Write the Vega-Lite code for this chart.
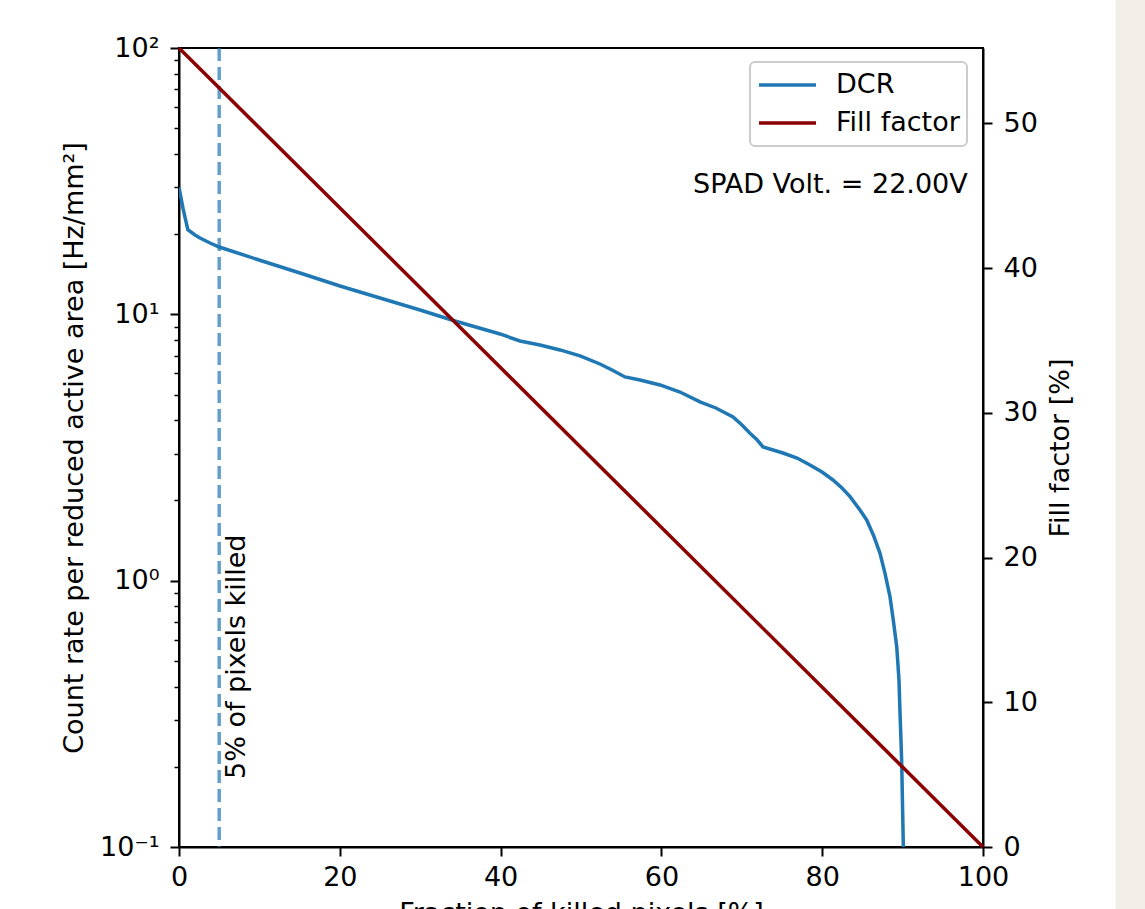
{
  "$schema": "https://vega.github.io/schema/vega-lite/v6.json",
  "width": 804,
  "height": 799,
  "autosize": {"type": "none"},
  "padding": {"left": 179, "top": 48, "right": 162, "bottom": 62},
  "background": "white",
  "config": {
    "font": "DejaVu Sans",
    "view": {"stroke": "black", "strokeWidth": 2},
    "axis": {
      "domainColor": "black", "domainWidth": 2,
      "tickColor": "black", "tickWidth": 2, "tickSize": 9,
      "labelFont": "DejaVu Sans", "labelFontSize": 27, "labelColor": "black", "labelPadding": 8,
      "labelFlush": false,
      "titleFont": "DejaVu Sans", "titleFontSize": 27, "titleColor": "black", "titleFontWeight": "normal",
      "grid": false
    },
    "legend": {
      "labelFont": "DejaVu Sans", "labelFontSize": 27, "labelColor": "black",
      "symbolType": "stroke", "symbolStrokeWidth": 3.5, "symbolSize": 3249,
      "labelOffset": 18, "padding": 7, "rowPadding": 6, "clipHeight": 32,
      "fillColor": "rgba(255,255,255,0.8)", "strokeColor": "#cccccc", "strokeWidth": 2, "cornerRadius": 5
    }
  },
  "datasets": {
    "dcr": [
      {"x": 0, "y": 30, "series": "DCR"},
      {"x": 0.5, "y": 25, "series": "DCR"},
      {"x": 1.1, "y": 20.8, "series": "DCR"},
      {"x": 1.99, "y": 19.86, "series": "DCR"},
      {"x": 2.61, "y": 19.35, "series": "DCR"},
      {"x": 3.86, "y": 18.53, "series": "DCR"},
      {"x": 5, "y": 17.9, "series": "DCR"},
      {"x": 9.95, "y": 16.0, "series": "DCR"},
      {"x": 15.05, "y": 14.3, "series": "DCR"},
      {"x": 20.02, "y": 12.78, "series": "DCR"},
      {"x": 25.0, "y": 11.52, "series": "DCR"},
      {"x": 29.98, "y": 10.38, "series": "DCR"},
      {"x": 34.33, "y": 9.44, "series": "DCR"},
      {"x": 39.93, "y": 8.44, "series": "DCR"},
      {"x": 42.41, "y": 7.94, "series": "DCR"},
      {"x": 44.9, "y": 7.67, "series": "DCR"},
      {"x": 47.39, "y": 7.35, "series": "DCR"},
      {"x": 49.88, "y": 6.98, "series": "DCR"},
      {"x": 52.36, "y": 6.51, "series": "DCR"},
      {"x": 53.86, "y": 6.18, "series": "DCR"},
      {"x": 55.47, "y": 5.82, "series": "DCR"},
      {"x": 57.34, "y": 5.67, "series": "DCR"},
      {"x": 59.83, "y": 5.43, "series": "DCR"},
      {"x": 62.31, "y": 5.11, "series": "DCR"},
      {"x": 64.8, "y": 4.69, "series": "DCR"},
      {"x": 66.77, "y": 4.45, "series": "DCR"},
      {"x": 68.91, "y": 4.12, "series": "DCR"},
      {"x": 70.02, "y": 3.84, "series": "DCR"},
      {"x": 71.02, "y": 3.58, "series": "DCR"},
      {"x": 71.89, "y": 3.38, "series": "DCR"},
      {"x": 72.64, "y": 3.18, "series": "DCR"},
      {"x": 75.12, "y": 3.016, "series": "DCR"},
      {"x": 76.87, "y": 2.888, "series": "DCR"},
      {"x": 78.48, "y": 2.719, "series": "DCR"},
      {"x": 79.98, "y": 2.559, "series": "DCR"},
      {"x": 81.34, "y": 2.388, "series": "DCR"},
      {"x": 82.46, "y": 2.228, "series": "DCR"},
      {"x": 83.46, "y": 2.067, "series": "DCR"},
      {"x": 84.7, "y": 1.842, "series": "DCR"},
      {"x": 85.53, "y": 1.69, "series": "DCR"},
      {"x": 86.36, "y": 1.484, "series": "DCR"},
      {"x": 87.19, "y": 1.267, "series": "DCR"},
      {"x": 87.81, "y": 1.066, "series": "DCR"},
      {"x": 88.43, "y": 0.871, "series": "DCR"},
      {"x": 88.84, "y": 0.712, "series": "DCR"},
      {"x": 89.27, "y": 0.565, "series": "DCR"},
      {"x": 89.55, "y": 0.424, "series": "DCR"},
      {"x": 89.68, "y": 0.318, "series": "DCR"},
      {"x": 89.8, "y": 0.252, "series": "DCR"},
      {"x": 89.89, "y": 0.206, "series": "DCR"},
      {"x": 90.01, "y": 0.134, "series": "DCR"},
      {"x": 90.09, "y": 0.1, "series": "DCR"}
    ],
    "ff": [
      {"x": 0, "ff": 55.2, "series": "Fill factor"},
      {"x": 100, "ff": 0, "series": "Fill factor"}
    ],
    "vline": [{"x": 5}],
    "notes": [
      {"x": 5.6, "y": 0.18, "label": "5% of pixels killed"}
    ],
    "spad": [
      {"x": 98.1, "y": 30.6, "label": "SPAD Volt. = 22.00V"}
    ],
    "strip": [{"x": 116.5, "x2": 140, "y": 0.001, "y2": 10000}]
  },
  "layer": [
    {
      "layer": [
        {
          "data": {"name": "strip"},
          "mark": {"type": "rect", "color": "#f2efe9", "clip": false},
          "encoding": {
            "x": {"field": "x", "type": "quantitative", "scale": {"domain": [0, 100], "nice": false}},
            "x2": {"field": "x2"},
            "y": {"field": "y", "type": "quantitative", "scale": {"type": "log", "domain": [0.1, 100], "nice": false}},
            "y2": {"field": "y2"}
          }
        },
        {
          "data": {"name": "vline"},
          "mark": {"type": "rule", "color": "#1f77b4", "opacity": 0.7, "strokeWidth": 3.5, "strokeDash": [13, 6]},
          "encoding": {
            "x": {"field": "x", "type": "quantitative"}
          }
        },
        {
          "data": {"name": "dcr"},
          "mark": {"type": "line", "strokeWidth": 3.5, "clip": true},
          "encoding": {
            "x": {"field": "x", "type": "quantitative", "scale": {"domain": [0, 100], "nice": false},
                  "axis": {"values": [0, 20, 40, 60, 80, 100], "title": "Fraction of killed pixels [%]", "titlePadding": 10}},
            "y": {"field": "y", "type": "quantitative",
                  "scale": {"type": "log", "domain": [0.1, 100], "nice": false},
                  "axis": {
                    "values": [0.1, 0.2, 0.3, 0.4, 0.5, 0.6, 0.7, 0.8, 0.9, 1, 2, 3, 4, 5, 6, 7, 8, 9, 10, 20, 30, 40, 50, 60, 70, 80, 90, 100],
                    "labelExpr": "datum.value == 100 ? '10²' : datum.value == 10 ? '10¹' : datum.value == 1 ? '10⁰' : datum.value == 0.1 ? '10⁻¹' : ''",
                    "tickSize": {"condition": {"test": "datum.value == 100 || datum.value == 10 || datum.value == 1 || datum.value == 0.1", "value": 9}, "value": 5},
                    "tickWidth": {"condition": {"test": "datum.value == 100 || datum.value == 10 || datum.value == 1 || datum.value == 0.1", "value": 2}, "value": 1.5},
                    "labelPadding": 11,
                    "title": "Count rate per reduced active area [Hz/mm²]",
                    "titlePadding": 11
                  }},
            "color": {"field": "series", "type": "nominal",
                      "scale": {"domain": ["DCR", "Fill factor"], "range": ["#1f77b4", "#8b0000"]},
                      "legend": {"orient": "none", "legendX": 571, "legendY": 14, "title": null}}
          }
        },
        {
          "data": {"name": "notes"},
          "mark": {"type": "text", "angle": 270, "align": "left", "baseline": "top", "fontSize": 27, "color": "black"},
          "encoding": {
            "x": {"field": "x", "type": "quantitative"},
            "y": {"field": "y", "type": "quantitative"},
            "text": {"field": "label"}
          }
        },
        {
          "data": {"name": "spad"},
          "mark": {"type": "text", "align": "right", "baseline": "middle", "fontSize": 27, "color": "black"},
          "encoding": {
            "x": {"field": "x", "type": "quantitative"},
            "y": {"field": "y", "type": "quantitative"},
            "text": {"field": "label"}
          }
        }
      ]
    },
    {
      "data": {"name": "ff"},
      "mark": {"type": "line", "strokeWidth": 3.5},
      "encoding": {
        "x": {"field": "x", "type": "quantitative", "scale": {"domain": [0, 100], "nice": false}},
        "y": {"field": "ff", "type": "quantitative",
              "scale": {"domain": [0, 55.2], "nice": false, "zero": true},
              "axis": {"orient": "right", "values": [0, 10, 20, 30, 40, 50], "labelPadding": 11, "title": "Fill factor [%]", "titleAngle": 270, "titleBaseline": "top", "titlePadding": 10}},
        "color": {"field": "series", "type": "nominal",
                  "scale": {"domain": ["DCR", "Fill factor"], "range": ["#1f77b4", "#8b0000"]}}
      }
    }
  ],
  "resolve": {"scale": {"y": "independent"}}
}
